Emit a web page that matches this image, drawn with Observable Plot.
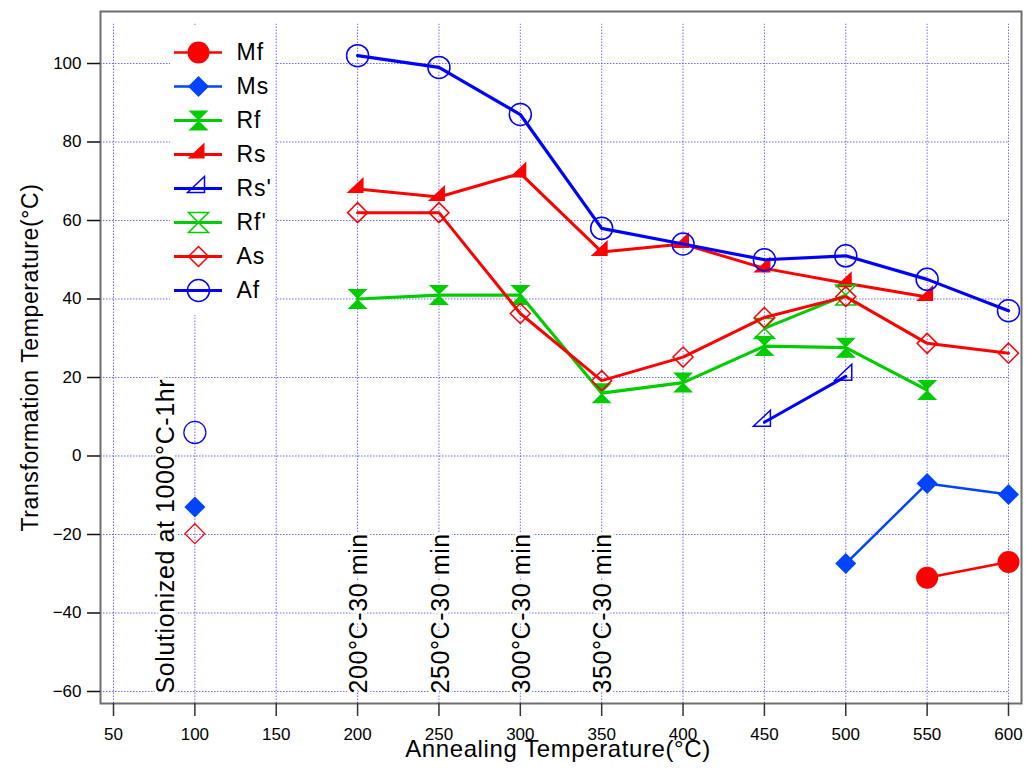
<!DOCTYPE html>
<html>
<head>
<meta charset="utf-8">
<script src="https://cdn.jsdelivr.net/npm/d3@7"></script>
<script src="https://cdn.jsdelivr.net/npm/@observablehq/plot@0.6"></script>
<style>
  body { margin: 0; background: #fff; }
  #wrap { position: relative; width: 1026px; height: 769px; }
  #legend { position: absolute; left: 170px; top: 25px; width: 105px; height: 290px; background: #fff; }
</style>
</head>
<body>
<div id="wrap"><div id="chart"></div><div id="legend"></div></div>
<script>
// ---------- data ----------
const xTicks = [50, 100, 150, 200, 250, 300, 350, 400, 450, 500, 550, 600];
const yTicks = [-60, -40, -20, 0, 20, 40, 60, 80, 100];

const temps = [200, 250, 300, 350, 400, 450, 500, 550, 600];
const afVals = [102, 99, 87, 58, 54, 50, 51, 45, 37];
const rsVals = [68, 66, 72, 52, 54, 47.8, 44, 40.5, null];
const asVals = [62, 62, 36.3, 19.2, 25.2, 35.3, 40.6, 28.7, 26.2];
const rfVals = [40, 41, 41, 16, 18.7, 28, 27.6, 16.8, null];

const rfPrimeT = [450, 500];
const rfPrimeVals = [32.5, 41];
const rsPrimeT = [450, 500];
const rsPrimeVals = [8.6, 20.3];
const msT = [500, 550, 600];
const msVals = [-27.4, -7, -9.8];
const mfT = [550, 600];
const mfVals = [-31, -27];

// solutionized state (100 on the axis)
const solT = 100;
const solAf = 6;
const solMs = -13;
const solAs = -19.8;

const annoLabels = ["Solutionized at 1000°C-1hr", "200°C-30 min", "250°C-30 min", "300°C-30 min", "350°C-30 min"];
const annoX = [82, 201, 251, 301, 351];

const seriesNames = ["Mf", "Ms", "Rf", "Rs", "Rs'", "Rf'", "As", "Af"];

// ---------- symbols ----------
const rad = s => Math.sqrt(s / Math.PI);
const hourglass = {draw(ctx, size) { const r = rad(size); ctx.moveTo(-r, -r); ctx.lineTo(r, -r); ctx.lineTo(-r, r); ctx.lineTo(r, r); ctx.closePath(); }};
const rtri = {draw(ctx, size) { const r = rad(size) / 10; ctx.moveTo(-11 * r, 4 * r); ctx.lineTo(6 * r, 4 * r); ctx.lineTo(6 * r, -12 * r); ctx.closePath(); }};
const diamond = {draw(ctx, size) { const r = rad(size); ctx.moveTo(0, -r); ctx.lineTo(r, 0); ctx.lineTo(0, r); ctx.lineTo(-r, 0); ctx.closePath(); }};

const RED = "#ff0000", BLUE = "#0000ff", MSBLUE = "#0044ff", GREEN = "#00cc00";

const rows = (xs, ys) => xs.map((x, i) => ({x, y: ys[i]})).filter(d => d.y != null);

const series = [
  {name: "Mf", data: rows(mfT, mfVals), color: RED, sym: "circle", r: 11, filled: true, lw: 2.5},
  {name: "Ms", data: rows(msT, msVals), color: MSBLUE, sym: diamond, r: 10.5, filled: true, lw: 2.5},
  {name: "Rf", data: rows(temps, rfVals), color: GREEN, sym: hourglass, r: 10, filled: true, lw: 3.2},
  {name: "Rs", data: rows(temps, rsVals), color: RED, sym: rtri, r: 10, filled: true, lw: 3},
  {name: "Rs'", data: rows(rsPrimeT, rsPrimeVals), color: BLUE, sym: rtri, r: 10, filled: false, lw: 3},
  {name: "Rf'", data: rows(rfPrimeT, rfPrimeVals), color: GREEN, sym: hourglass, r: 10, filled: false, lw: 3},
  {name: "As", data: rows(temps, asVals), color: RED, sym: diamond, r: 10, filled: false, lw: 3},
  {name: "Af", data: rows(temps, afVals), color: BLUE, sym: "circle", r: 11, filled: false, lw: 3.2}
];
const byName = Object.fromEntries(series.map(s => [s.name, s]));

const solPoints = [
  {s: "Af", y: solAf},
  {s: "Ms", y: solMs},
  {s: "As", y: solAs}
];

const dotOpts = (s) => s.filled
  ? {symbol: s.sym, r: s.r, fill: s.color, stroke: "none"}
  : {symbol: s.sym, r: s.r, fill: "none", stroke: s.color, strokeWidth: 1.5};

const FONT = "'Liberation Sans', Arial, Helvetica, sans-serif";
const gridStyle = {stroke: "#5a5aff", strokeWidth: 1, strokeDasharray: "1.5,1.5", strokeOpacity: 0.9};

const xDomain = [42.01, 607.99];
const yDomain = [-63.06, 113.25];

const marks = [
  // grid
  Plot.ruleY(yTicks, {y: d => d, x1: xDomain[0], x2: xTicks[xTicks.length - 1], ...gridStyle}),
  Plot.ruleX(xTicks, {x: d => d, y1: yDomain[0], y2: 110, ...gridStyle}),
  // annotations with white halo
  Plot.text(annoLabels, {
    x: (d, i) => annoX[i], text: d => d, frameAnchor: "bottom", dy: -10,
    rotate: -90, textAnchor: "start", lineAnchor: "middle",
    fontSize: 25, fill: "black", stroke: "white", strokeWidth: 6
  })
];

for (const s of series) {
  marks.push(Plot.line(s.data, {x: "x", y: "y", stroke: s.color, strokeWidth: s.lw, strokeLinejoin: "round"}));
  marks.push(Plot.dot(s.data, {x: "x", y: "y", ...dotOpts(s)}));
}
for (const p of solPoints) {
  const s = byName[p.s];
  marks.push(Plot.dot([p], {x: () => solT, y: "y", ...dotOpts(s), ...(s.filled ? {} : {strokeWidth: 1.2})}));
}

marks.push(
  Plot.frame({stroke: "#6e6e6e", strokeWidth: 2}),
  Plot.axisX(xTicks, {tickSize: 13, tickPadding: 11, fontSize: 17, stroke: "#333", strokeWidth: 1.5, label: null}),
  Plot.axisY(yTicks, {tickSize: 13, tickPadding: 6, fontSize: 17, stroke: "#111", strokeWidth: 1.5, label: null}),
  Plot.text(["Transformation Temperature(°C)"], {frameAnchor: "left", dx: -70, rotate: -90, textAnchor: "middle", fontSize: 23, fill: "black"}),
  Plot.text(["Annealing Temperature(°C)"], {frameAnchor: "bottom", dy: 53, dx: -3, textAnchor: "middle", fontSize: 24, fill: "black"})
);

const chart = Plot.plot({
  width: 1026,
  height: 769,
  marginTop: 11,
  marginRight: 5,
  marginBottom: 66,
  marginLeft: 100,
  style: {fontFamily: FONT, background: "white", color: "black"},
  x: {domain: xDomain, axis: null},
  y: {domain: yDomain, axis: null},
  marks
});
d3.select(chart).selectAll("g[aria-label='text'] text").style("letter-spacing", "0.6px");
document.getElementById("chart").appendChild(chart);

// ---------- legend ----------
const legMarks = [];
for (const s of series) {
  legMarks.push(Plot.ruleY([s.name], {y: d => d, stroke: s.color, strokeWidth: s.lw}));
  legMarks.push(Plot.dot([s.name], {y: d => d, frameAnchor: "middle", ...dotOpts(s)}));
}
legMarks.push(Plot.text(seriesNames, {y: d => d, text: d => d, frameAnchor: "right", dx: 14, textAnchor: "start", fontSize: 23, fill: "black"}));

const legend = Plot.plot({
  width: 105,
  height: 290,
  marginLeft: 4,
  marginRight: 53,
  marginTop: 0,
  marginBottom: 0,
  style: {fontFamily: FONT, background: "white", overflow: "visible"},
  x: {domain: [0, 1], axis: null},
  y: {type: "point", domain: seriesNames, range: [27, 265], padding: 0, axis: null},
  marks: legMarks
});
d3.select(legend).selectAll("g[aria-label='text'] text").style("letter-spacing", "1px");
document.getElementById("legend").appendChild(legend);
</script>
</body>
</html>
